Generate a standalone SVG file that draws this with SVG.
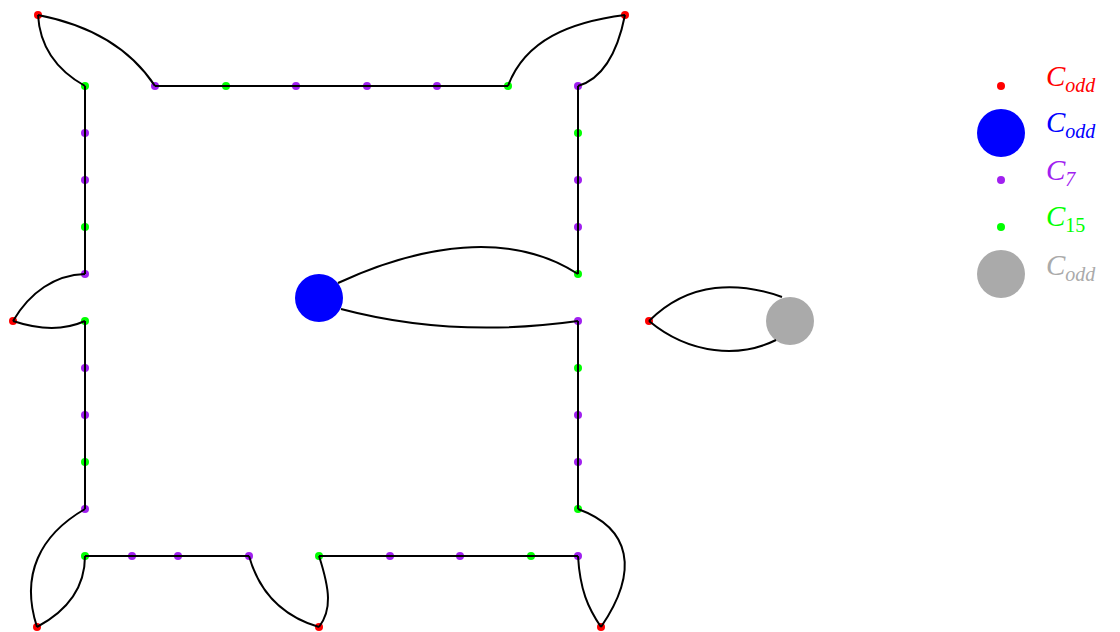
<svg xmlns="http://www.w3.org/2000/svg" width="1120" height="632" viewBox="0 0 1120 632">
<style>
.r{fill:#ff0000}.p{fill:#a020f0}.g{fill:#00ff00}.b{fill:#0000ff}.k{fill:#aaaaaa}
.e{fill:none;stroke:#000;stroke-width:2}
.t{font-family:"Liberation Serif",serif;font-style:italic;font-size:29px}
.s{font-size:20px}
</style>
<rect width="1120" height="632" fill="#fff"/>
<g id="nodes">
<g id="red"><circle class="r" cx="38" cy="15" r="4"/><circle class="r" cx="625" cy="15" r="4"/><circle class="r" cx="13" cy="321" r="4"/><circle class="r" cx="37" cy="627" r="4"/><circle class="r" cx="319" cy="627" r="4"/><circle class="r" cx="601" cy="627" r="4"/><circle class="r" cx="649" cy="321" r="4"/></g>
<g id="blue"><circle class="b" cx="319" cy="298" r="24"/></g>
<g id="gray"><circle class="k" cx="790" cy="321" r="24"/></g>
<g id="top"><circle class="g" cx="85" cy="86" r="4"/><circle class="p" cx="155" cy="86" r="4"/><circle class="g" cx="226" cy="86" r="4"/><circle class="p" cx="296" cy="86" r="4"/><circle class="p" cx="367" cy="86" r="4"/><circle class="p" cx="437" cy="86" r="4"/><circle class="g" cx="508" cy="86" r="4"/><circle class="p" cx="578" cy="86" r="4"/></g>
<g id="left"><circle class="p" cx="85" cy="133" r="4"/><circle class="p" cx="85" cy="180" r="4"/><circle class="g" cx="85" cy="227" r="4"/><circle class="p" cx="85" cy="274" r="4"/><circle class="g" cx="85" cy="321" r="4"/><circle class="p" cx="85" cy="368" r="4"/><circle class="p" cx="85" cy="415" r="4"/><circle class="g" cx="85" cy="462" r="4"/><circle class="p" cx="85" cy="509" r="4"/></g>
<g id="right"><circle class="g" cx="578" cy="133" r="4"/><circle class="p" cx="578" cy="180" r="4"/><circle class="p" cx="578" cy="227" r="4"/><circle class="g" cx="578" cy="274" r="4"/><circle class="p" cx="578" cy="321" r="4"/><circle class="g" cx="578" cy="368" r="4"/><circle class="p" cx="578" cy="415" r="4"/><circle class="p" cx="578" cy="462" r="4"/><circle class="g" cx="578" cy="509" r="4"/></g>
<g id="bottom"><circle class="g" cx="85" cy="556" r="4"/><circle class="p" cx="132" cy="556" r="4"/><circle class="p" cx="178" cy="556" r="4"/><circle class="p" cx="249" cy="556" r="4"/><circle class="g" cx="319" cy="556" r="4"/><circle class="p" cx="390" cy="556" r="4"/><circle class="p" cx="460" cy="556" r="4"/><circle class="g" cx="531" cy="556" r="4"/><circle class="p" cx="578" cy="556" r="4"/></g>
</g>
<g id="connectors" class="e">
<path d="M155,86H508"/>
<path d="M85,86V274M85,321V509"/>
<path d="M578,86V274M578,321V509"/>
<path d="M85,556H249M319,556H578"/>
<path d="M38,15C40,50 60,72 85,86"/>
<path d="M38,15C90,25 130,48 155,86"/>
<path d="M508,86C525,40 570,22 625,15"/>
<path d="M578,86C605,78 618,50 625,15"/>
<path d="M13,321C30,292 55,275 85,274"/>
<path d="M13,321C40,330 65,330 85,321"/>
<path d="M85,509C40,535 20,575 37,627"/>
<path d="M85,556C85,590 65,612 37,627"/>
<path d="M249,556C260,595 285,617 319,627"/>
<path d="M319,556C330,590 332,610 319,627"/>
<path d="M578,556C580,590 588,608 601,627"/>
<path d="M578,509C630,528 640,570 601,627"/>
<path d="M338,283C420,245 510,230 578,274"/>
<path d="M341,309C420,330 500,332 578,321"/>
<path d="M649,321C690,280 740,282 782,297"/>
<path d="M649,321C690,355 740,358 776,340"/>
</g>
<g id="legend">
<circle class="r" cx="1001" cy="86" r="4"/>
<circle class="b" cx="1001" cy="133" r="24"/>
<circle class="p" cx="1001" cy="180" r="4"/>
<circle class="g" cx="1001" cy="227" r="4"/>
<circle class="k" cx="1001" cy="274" r="24"/>
<text class="t r" x="1046" y="86">C<tspan class="s" dy="6">odd</tspan></text>
<text class="t b" x="1046" y="132">C<tspan class="s" dy="6">odd</tspan></text>
<text class="t p" x="1046" y="180">C<tspan class="s" dy="6">7</tspan></text>
<text class="t g" x="1046" y="226">C<tspan class="s" dy="6" style="font-style:normal">15</tspan></text>
<text class="t k" x="1046" y="275">C<tspan class="s" dy="6">odd</tspan></text>
</g>
</svg>
